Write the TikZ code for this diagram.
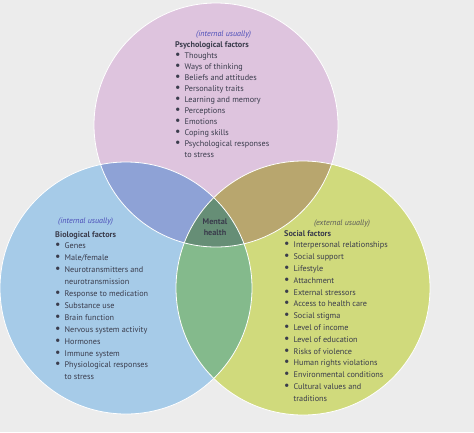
\documentclass[tikz,border=0pt]{standalone}
\usepackage{fontspec}
\setmainfont{PT Sans}
\usetikzlibrary{positioning}

\definecolor{paper}{HTML}{ECECEC}
\definecolor{psycho}{HTML}{DEC4DE}
\definecolor{bio}{HTML}{A6CBE8}
\definecolor{social}{HTML}{D0DA7C}
\definecolor{biopsy}{HTML}{8EA2D6}
\definecolor{psysoc}{HTML}{B8A66E}
\definecolor{biosoc}{HTML}{84BA8C}
\definecolor{allthree}{HTML}{668E76}
\definecolor{inktext}{HTML}{3A3C4C}
\definecolor{pen}{HTML}{4A4CB8}

\newcommand{\itm}[1]{{\large\textbullet} & #1\\}
\newcommand{\cont}[1]{ & #1\\}
\newcommand{\hdr}[1]{\multicolumn{2}{@{}l@{}}{\textbf{#1}}\\}

\tikzset{
  venn/.style={draw=white, line width=0.8pt},
  factors/.style={anchor=base west, inner sep=0pt, text=inktext, font=\fontsize{8.2}{#1}\selectfont},
  note/.style={anchor=base west, inner sep=0pt, text=pen, font=\fontsize{8}{9}\selectfont\itshape},
}

\begin{document}
\begin{tikzpicture}[x=1pt,y=-1pt]
\useasboundingbox (0,0) rectangle (474,432);
\fill[paper] (0,0) rectangle (474,432);

% circles
\coordinate (cp) at (216,125);
\coordinate (cb) at (126,288);
\coordinate (cs) at (303,288);
\fill[psycho] (cp) circle (122);
\fill[bio] (cb) circle (126);
\fill[social] (cs) circle (127);

% overlaps
\begin{scope}
  \clip (cp) circle (122);
  \fill[biopsy] (cb) circle (126);
  \fill[psysoc] (cs) circle (127);
\end{scope}
\begin{scope}
  \clip (cb) circle (126);
  \fill[biosoc] (cs) circle (127);
  \clip (cs) circle (127);
  \fill[allthree] (cp) circle (122);
\end{scope}

\draw[venn] (cp) circle (122);
\draw[venn] (cb) circle (126);
\draw[venn] (cs) circle (127);

% texts
\node[factors=11] (psy) at (175,47) {\begin{tabular}[t]{@{}l@{\hspace{4pt}}l@{}}
\hdr{Psychological factors}
\itm{Thoughts}
\itm{Ways of thinking}
\itm{Beliefs and attitudes}
\itm{Personality traits}
\itm{Learning and memory}
\itm{Perceptions}
\itm{Emotions}
\itm{Coping skills}
\itm{Psychological responses}
\cont{to stress}
\end{tabular}};

\node[factors=11.9] (bio) at (55,237) {\begin{tabular}[t]{@{}l@{\hspace{4pt}}l@{}}
\hdr{Biological factors}
\itm{Genes}
\itm{Male/female}
\itm{Neurotransmitters and}
\cont{neurotransmission}
\itm{Response to medication}
\itm{Substance use}
\itm{Brain function}
\itm{Nervous system activity}
\itm{Hormones}
\itm{Immune system}
\itm{Physiological responses}
\cont{to stress}
\end{tabular}};

\node[factors=11.8] (soc) at (284,236) {\begin{tabular}[t]{@{}l@{\hspace{4pt}}l@{}}
\hdr{Social factors}
\itm{Interpersonal relationships}
\itm{Social support}
\itm{Lifestyle}
\itm{Attachment}
\itm{External stressors}
\itm{Access to health care}
\itm{Social stigma}
\itm{Level of income}
\itm{Level of education}
\itm{Risks of violence}
\itm{Human rights violations}
\itm{Environmental conditions}
\itm{Cultural values and}
\cont{traditions}
\end{tabular}};

\node[inner sep=0pt, align=center, text=inktext, font=\fontsize{8.2}{11}\selectfont\bfseries] (mh) at (215,227) {Mental\\health};

% handwritten notes
\node[note] (psynote) at (196,36) {(internal usually)};
\node[note] (bionote) at (58,223) {(internal usually)};
\node[note, text=black!65] (socnote) at (314,225) {(external usually)};
\end{tikzpicture}
\end{document}
